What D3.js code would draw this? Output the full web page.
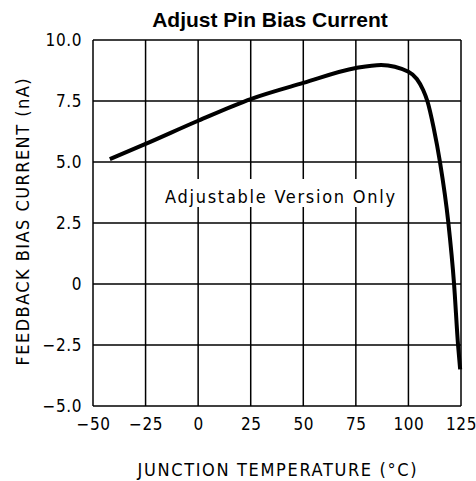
<!DOCTYPE html>
<html>
<head>
<meta charset="utf-8">
<script src="https://cdn.jsdelivr.net/npm/d3@7"></script>
<style>
  body { margin: 0; background: #fff; }
  text { font-family: "DejaVu Sans Condensed", "DejaVu Sans", sans-serif; font-stretch: condensed; fill: #000; }
</style>
</head>
<body>
<svg id="chart" width="476" height="481"></svg>
<script>
//---data---
var temps = [-42, -25, 0, 25, 50, 75, 87, 100, 104, 107, 109, 112, 115, 119, 121.7, 123.6, 124.6]
var biasNA = [5.12, 5.74, 6.69, 7.58, 8.24, 8.85, 8.98, 8.7, 8.4, 7.95, 7.5, 6.4, 5.0, 2.5, 0, -2.5, -3.5]
var xTicks = [-50, -25, 0, 25, 50, 75, 100, 125]
var yTicks = [-5, -2.5, 0, 2.5, 5, 7.5, 10]
var yTickLabels = ["\u22125.0", "\u22122.5", "0", "2.5", "5.0", "7.5", "10.0"]

var svg = d3.select("#chart")
var plotL = 93, plotR = 461, plotT = 40, plotB = 406

var x = d3.scaleLinear().domain([-50, 125]).range([plotL, plotR])
var y = d3.scaleLinear().domain([-5, 10]).range([plotB, plotT])

//---grid---
var grid = svg.append("g").attr("stroke", "#000").attr("stroke-width", 1.5)
grid.selectAll(".vx").data(xTicks).enter().append("line")
    .attr("x1", d => x(d)).attr("x2", d => x(d))
    .attr("y1", plotT).attr("y2", plotB)
grid.selectAll(".hy").data(yTicks).enter().append("line")
    .attr("x1", plotL).attr("x2", plotR)
    .attr("y1", d => y(d)).attr("y2", d => y(d))

//---tick labels---
var xAxis = d3.axisBottom(x).tickValues(xTicks).tickSize(0).tickPadding(0)
    .tickFormat(d => d < 0 ? "\u2212" + Math.abs(d) : d)
var gx = svg.append("g").attr("transform", "translate(0," + (plotB + 24) + ")").call(xAxis)
gx.select(".domain").remove()
gx.selectAll("text").attr("dy", 0).attr("font-size", 17).attr("letter-spacing", 0.6)
  .attr("font-family", null)

var yAxis = d3.axisLeft(y).tickValues(yTicks).tickSize(0).tickPadding(11)
    .tickFormat((d, i) => yTickLabels[i])
var gy = svg.append("g").attr("transform", "translate(" + plotL + ",0)").call(yAxis)
gy.select(".domain").remove()
gy.selectAll("text").attr("font-size", 17).attr("letter-spacing", 0.6).attr("font-family", null)

//---note box---
svg.append("rect").attr("x", 160).attr("y", 179).attr("width", 240).attr("height", 28).attr("fill", "#fff")
svg.append("text").attr("x", 280).attr("y", 203).attr("text-anchor", "middle")
    .attr("font-size", 18).attr("textLength", 230).attr("lengthAdjust", "spacing")
    .text("Adjustable Version Only")

//---curve---
var line = d3.line().x((d, i) => x(temps[i])).y(d => y(d)).curve(d3.curveMonotoneX)
svg.append("path").datum(biasNA).attr("d", line)
    .attr("fill", "none").attr("stroke", "#000").attr("stroke-width", 4)
    .attr("stroke-linejoin", "round")

//---titles---
svg.append("text").attr("x", 270).attr("y", 27).attr("text-anchor", "middle")
    .style("font-family", "'Liberation Sans', Arial, sans-serif").style("font-stretch", "normal")
    .attr("font-weight", "bold").attr("font-size", 21).text("Adjust Pin Bias Current")
svg.append("text").attr("x", 277).attr("y", 476).attr("text-anchor", "middle")
    .attr("font-size", 18).attr("textLength", 279).attr("lengthAdjust", "spacing")
    .text("JUNCTION TEMPERATURE (\u00B0C)")
svg.append("text").attr("transform", "translate(29,222) rotate(-90)").attr("text-anchor", "middle")
    .attr("font-size", 18).attr("textLength", 287).attr("lengthAdjust", "spacing")
    .text("FEEDBACK BIAS CURRENT (nA)")
</script>
</body>
</html>
